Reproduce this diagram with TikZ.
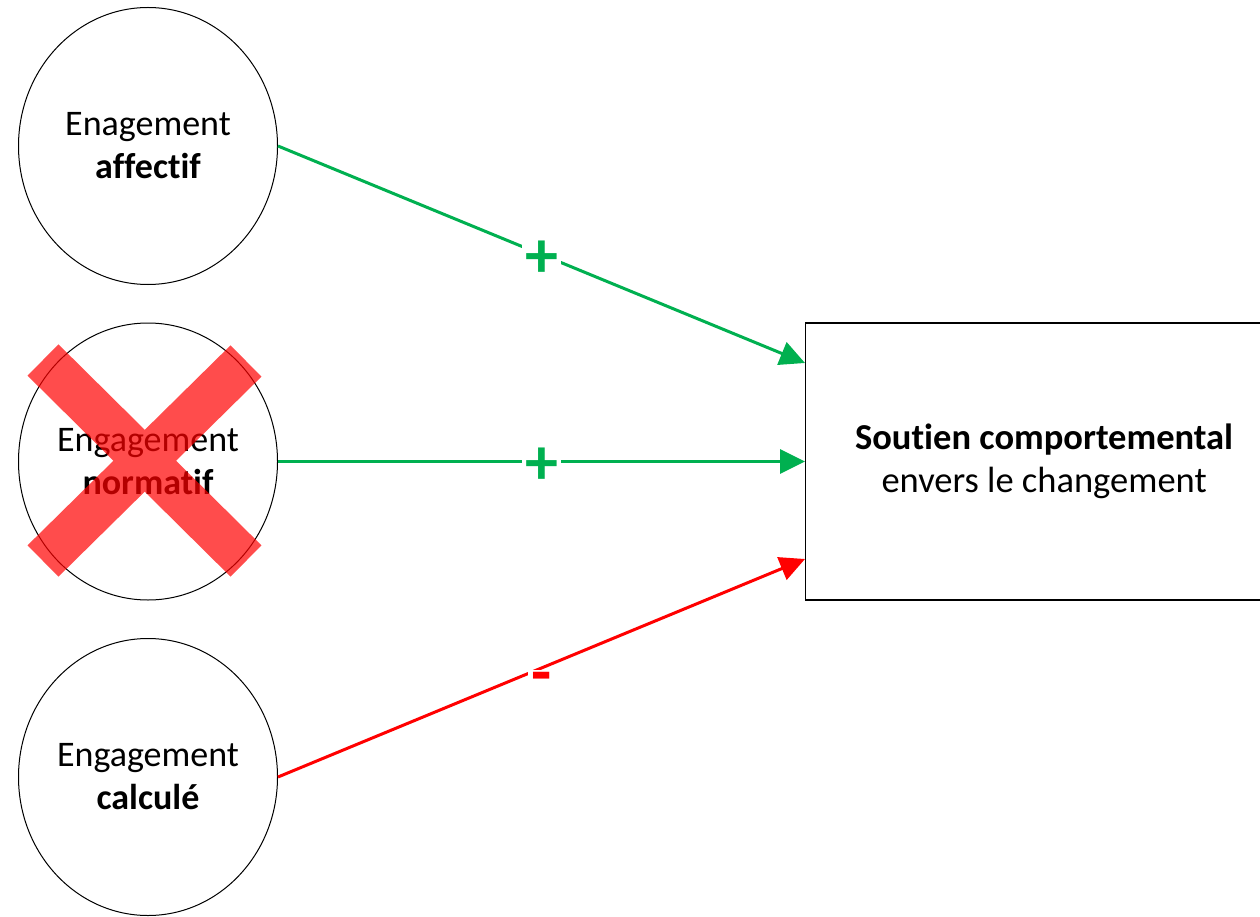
\documentclass[tikz,border=0pt]{standalone}
\usepackage{fontspec}
\setmainfont[RawFeature={-liga}]{Carlito}
\usetikzlibrary{shapes.geometric,arrows.meta,calc}

\definecolor{posgreen}{HTML}{00B050}
\definecolor{negred}{HTML}{FF0000}

\tikzset{
  construct/.style={ellipse, draw=black, line width=1pt, fill=white,
    minimum width=259pt, minimum height=277pt, inner sep=0pt,
    align=center, font=\fontsize{36}{43}\selectfont},
  outcome/.style={rectangle, draw=black, line width=1.2pt, fill=white,
    minimum width=477pt, minimum height=277pt, inner sep=0pt, anchor=west,
    align=center, font=\fontsize{36.5}{43}\selectfont},
  effect/.style={line width=3pt, -{Triangle[length=25pt,width=24pt]}},
  positive/.style={effect, draw=posgreen},
  negative/.style={effect, draw=negred},
  sign/.style={fill=white, inner sep=3pt, font=\fontsize{66}{66}\selectfont\bfseries},
  plussign/.style={sign, text=posgreen, yshift=-5pt},
  minussign/.style={sign, text=negred, yshift=-15pt, inner ysep=2pt},
  strike/.style={draw=negred, line width=44pt, line cap=butt}
}

\begin{document}
\begin{tikzpicture}[x=1pt,y=-1pt]
  \useasboundingbox (0,0) rectangle (1260,917);

  % the three commitment components
  \node[construct] (aff)  at (148,146)   {Enagement\\\textbf{affectif}};
  \node[construct] (norm) at (148,461.5) {Engagement\\\textbf{normatif}};
  \node[construct] (calc) at (148,777)   {Engagement\\\textbf{calculé}};

  % outcome
  \node[outcome] (supp) at (805,461.5)
    {\textbf{Soutien comportemental}\\envers le changement};

  % endpoints on the outcome box
  \coordinate (inTop) at ($(supp.west)+(0,-98.5)$);
  \coordinate (inBot) at ($(supp.west)+(0,97.5)$);

  % effects
  \draw[positive] (aff.east)  -- node[plussign] {+} (inTop);
  \draw[positive] (norm.east) -- node[plussign] {+} (supp.west);
  \draw[negative] (calc.east) -- node[minussign] {-} (inBot);

  % normative commitment crossed out
  \begin{scope}[transparency group, opacity=0.7]
    \draw[strike] (43,360) -- (246,561);
    \draw[strike] (246,361) -- (43,561);
  \end{scope}
\end{tikzpicture}
\end{document}
